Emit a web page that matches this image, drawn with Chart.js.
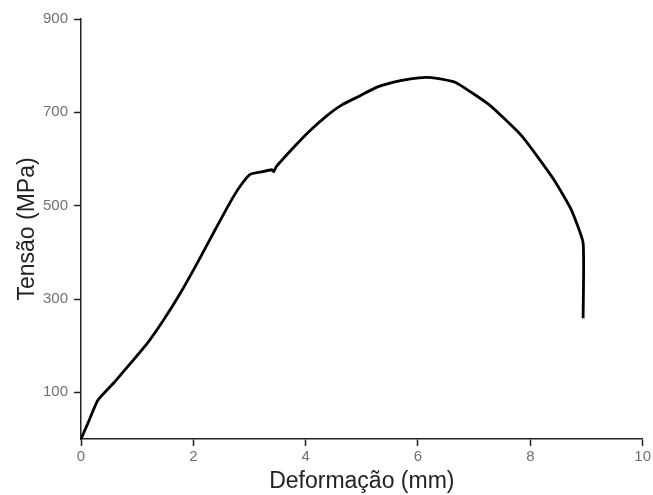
<!DOCTYPE html>
<html>
<head>
<meta charset="utf-8">
<script src="https://cdn.jsdelivr.net/npm/chart.js@4"></script>
<style>
  html, body { margin: 0; padding: 0; background: #fff; }
  #grafico { display: block; }
</style>
</head>
<body>
<canvas id="grafico" width="653" height="495"></canvas>
<script>
// curva tensão x deformação
const deformacao = [0, 0.12, 0.30, 0.59, 0.88, 1.18, 1.47, 1.77, 2.07, 2.36, 2.65, 2.83, 3.01, 3.19, 3.40, 3.43, 3.48, 3.78, 4.07, 4.37, 4.66, 4.96, 5.25, 5.55, 5.84, 6.14, 6.37, 6.67, 6.96, 7.26, 7.55, 7.85, 8.14, 8.44, 8.73, 8.94, 8.94];
const tensao = [0, 33, 83, 121, 162, 205, 255, 313, 377, 442, 506, 541, 567, 572, 577, 573, 584, 624, 660, 692, 717, 735, 753, 764, 771, 775, 772, 764, 742, 717, 685, 649, 603, 552, 491, 420, 259];
const ticksY = [100, 300, 500, 700, 900];
const ticksX = [0, 2, 4, 6, 8, 10];

const ctx = document.getElementById("grafico").getContext("2d");

const pontos = deformacao.map((x, i) => ({ x: x, y: tensao[i] }));

new Chart(ctx, {
    type: "line",
    data: {
        datasets: [{
            data: pontos,
            borderColor: "#000",
            borderWidth: 2.8,
            pointRadius: 0,
            tension: 0.15,
            fill: false
        }]
    },
    options: {
        responsive: false,
        animation: false,
        layout: { padding: { top: 19, right: 8, left: 0, bottom: 0 } },
        plugins: {
            legend: { display: false },
            tooltip: { enabled: false }
        },
        scales: {
            x: {
                type: "linear",
                min: 0,
                max: 10,
                afterBuildTicks: s => { s.ticks = ticksX.map(v => ({ value: v })); },
                afterFit: s => { s.height = 56; },
                grid: { display: true, drawOnChartArea: false, drawTicks: true, tickLength: 7, tickColor: "#222", tickWidth: 1.5 },
                border: { display: true, color: "#222", width: 1.5 },
                ticks: { color: "#707070", font: { family: "Arial", size: 15 }, padding: 2, maxRotation: 0 },
                title: { display: true, text: "Deformação (mm)", color: "#222", font: { family: "Arial", size: 23 }, padding: { top: 3, bottom: 0 } }
            },
            y: {
                min: 0,
                max: 900,
                afterBuildTicks: s => { s.ticks = ticksY.map(v => ({ value: v })); },
                afterFit: s => { s.width = 81; },
                grid: { display: true, drawOnChartArea: false, drawTicks: true, tickLength: 7, tickColor: "#222", tickWidth: 1.5 },
                border: { display: true, color: "#222", width: 1.5 },
                ticks: { color: "#707070", font: { family: "Arial", size: 15 }, padding: 6 },
                title: { display: true, text: "Tensão (MPa)", color: "#222", font: { family: "Arial", size: 23 }, padding: { top: 14, bottom: 0 } }
            }
        }
    }
});
</script>
</body>
</html>
